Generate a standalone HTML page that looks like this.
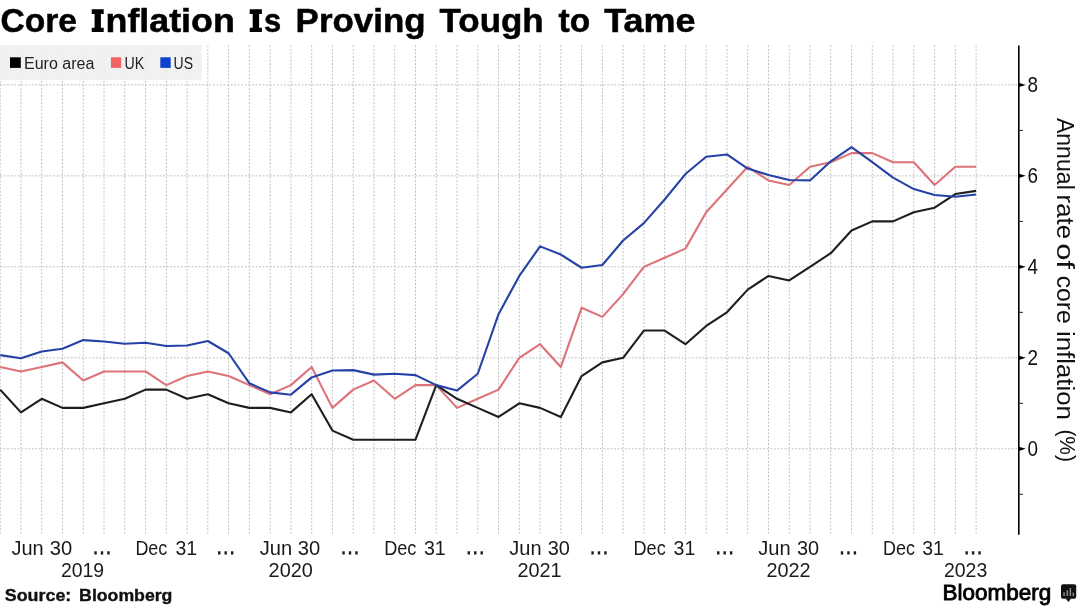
<!DOCTYPE html>
<html><head><meta charset="utf-8">
<style>
html,body{margin:0;padding:0;background:#fff;}
svg{display:block;will-change:transform;}
text{font-family:"Liberation Sans",sans-serif;}
</style></head><body>
<svg width="1078" height="606" viewBox="0 0 1078 606">
<rect width="1078" height="606" fill="#fff"/>
<g stroke="#bcbcbc" stroke-width="1" stroke-dasharray="1.8,1.75" fill="none">
<line x1="0.20" y1="45.4" x2="0.20" y2="534.7"/>
<line x1="20.96" y1="45.4" x2="20.96" y2="534.7"/>
<line x1="41.73" y1="45.4" x2="41.73" y2="534.7"/>
<line x1="62.49" y1="45.4" x2="62.49" y2="534.7"/>
<line x1="83.26" y1="45.4" x2="83.26" y2="534.7"/>
<line x1="104.02" y1="45.4" x2="104.02" y2="534.7"/>
<line x1="124.78" y1="45.4" x2="124.78" y2="534.7"/>
<line x1="145.55" y1="45.4" x2="145.55" y2="534.7"/>
<line x1="166.31" y1="45.4" x2="166.31" y2="534.7"/>
<line x1="187.08" y1="45.4" x2="187.08" y2="534.7"/>
<line x1="207.84" y1="45.4" x2="207.84" y2="534.7"/>
<line x1="228.60" y1="45.4" x2="228.60" y2="534.7"/>
<line x1="249.37" y1="45.4" x2="249.37" y2="534.7"/>
<line x1="270.13" y1="45.4" x2="270.13" y2="534.7"/>
<line x1="290.90" y1="45.4" x2="290.90" y2="534.7"/>
<line x1="311.66" y1="45.4" x2="311.66" y2="534.7"/>
<line x1="332.42" y1="45.4" x2="332.42" y2="534.7"/>
<line x1="353.19" y1="45.4" x2="353.19" y2="534.7"/>
<line x1="373.95" y1="45.4" x2="373.95" y2="534.7"/>
<line x1="394.72" y1="45.4" x2="394.72" y2="534.7"/>
<line x1="415.48" y1="45.4" x2="415.48" y2="534.7"/>
<line x1="436.24" y1="45.4" x2="436.24" y2="534.7"/>
<line x1="457.01" y1="45.4" x2="457.01" y2="534.7"/>
<line x1="477.77" y1="45.4" x2="477.77" y2="534.7"/>
<line x1="498.54" y1="45.4" x2="498.54" y2="534.7"/>
<line x1="519.30" y1="45.4" x2="519.30" y2="534.7"/>
<line x1="540.06" y1="45.4" x2="540.06" y2="534.7"/>
<line x1="560.83" y1="45.4" x2="560.83" y2="534.7"/>
<line x1="581.59" y1="45.4" x2="581.59" y2="534.7"/>
<line x1="602.36" y1="45.4" x2="602.36" y2="534.7"/>
<line x1="623.12" y1="45.4" x2="623.12" y2="534.7"/>
<line x1="643.88" y1="45.4" x2="643.88" y2="534.7"/>
<line x1="664.65" y1="45.4" x2="664.65" y2="534.7"/>
<line x1="685.41" y1="45.4" x2="685.41" y2="534.7"/>
<line x1="706.18" y1="45.4" x2="706.18" y2="534.7"/>
<line x1="726.94" y1="45.4" x2="726.94" y2="534.7"/>
<line x1="747.70" y1="45.4" x2="747.70" y2="534.7"/>
<line x1="768.47" y1="45.4" x2="768.47" y2="534.7"/>
<line x1="789.23" y1="45.4" x2="789.23" y2="534.7"/>
<line x1="810.00" y1="45.4" x2="810.00" y2="534.7"/>
<line x1="830.76" y1="45.4" x2="830.76" y2="534.7"/>
<line x1="851.52" y1="45.4" x2="851.52" y2="534.7"/>
<line x1="872.29" y1="45.4" x2="872.29" y2="534.7"/>
<line x1="893.05" y1="45.4" x2="893.05" y2="534.7"/>
<line x1="913.82" y1="45.4" x2="913.82" y2="534.7"/>
<line x1="934.58" y1="45.4" x2="934.58" y2="534.7"/>
<line x1="955.34" y1="45.4" x2="955.34" y2="534.7"/>
<line x1="976.11" y1="45.4" x2="976.11" y2="534.7"/>
<line x1="0" y1="448.80" x2="1018.8" y2="448.80"/>
<line x1="0" y1="357.82" x2="1018.8" y2="357.82"/>
<line x1="0" y1="266.84" x2="1018.8" y2="266.84"/>
<line x1="0" y1="175.86" x2="1018.8" y2="175.86"/>
<line x1="0" y1="84.88" x2="1018.8" y2="84.88"/>
</g>
<rect x="0" y="45.1" width="201.6" height="34.8" fill="#efefef" fill-opacity="0.85"/>
<rect x="10" y="57.3" width="10.8" height="10.6" fill="#000"/>
<rect x="110.9" y="57.3" width="10.3" height="10.6" fill="#f26363"/>
<rect x="160.3" y="57.3" width="10.4" height="10.6" fill="#1040d0"/>
<g fill="none" stroke-width="2.1" stroke-linejoin="round" stroke-linecap="butt">
<polyline stroke="#de7279" points="0.20,366.92 20.96,371.47 41.73,366.92 62.49,362.37 83.26,380.56 104.02,371.47 124.78,371.47 145.55,371.47 166.31,385.11 187.08,376.02 207.84,371.47 228.60,376.02 249.37,385.11 270.13,394.21 290.90,385.11 311.66,366.92 332.42,407.86 353.19,389.66 373.95,380.56 394.72,398.76 415.48,385.11 436.24,385.11 457.01,407.86 477.77,398.76 498.54,389.66 519.30,357.82 540.06,344.17 560.83,366.92 581.59,307.78 602.36,316.88 623.12,294.13 643.88,266.84 664.65,257.74 685.41,248.64 706.18,212.25 726.94,189.51 747.70,166.76 768.47,180.41 789.23,184.96 810.00,166.76 830.76,162.21 851.52,153.12 872.29,153.12 893.05,162.21 913.82,162.21 934.58,184.96 955.34,166.76 976.11,166.76"/>
<polyline stroke="#1e1e1e" points="0.20,389.66 20.96,412.41 41.73,398.76 62.49,407.86 83.26,407.86 104.02,403.31 124.78,398.76 145.55,389.66 166.31,389.66 187.08,398.76 207.84,394.21 228.60,403.31 249.37,407.86 270.13,407.86 290.90,412.41 311.66,394.21 332.42,430.60 353.19,439.70 373.95,439.70 394.72,439.70 415.48,439.70 436.24,385.11 457.01,398.76 477.77,407.86 498.54,416.96 519.30,403.31 540.06,407.86 560.83,416.96 581.59,376.02 602.36,362.37 623.12,357.82 643.88,330.53 664.65,330.53 685.41,344.17 706.18,325.98 726.94,312.33 747.70,289.59 768.47,275.94 789.23,280.49 810.00,266.84 830.76,253.19 851.52,230.45 872.29,221.35 893.05,221.35 913.82,212.25 934.58,207.70 955.34,194.06 976.11,190.87"/>
<polyline stroke="#2642a6" points="0.20,355.09 20.96,358.27 41.73,351.45 62.49,348.72 83.26,340.08 104.02,341.44 124.78,343.72 145.55,342.81 166.31,345.99 187.08,345.54 207.84,340.99 228.60,353.27 249.37,383.29 270.13,392.39 290.90,394.67 311.66,377.38 332.42,370.56 353.19,370.10 373.95,374.65 394.72,373.74 415.48,375.11 436.24,385.11 457.01,390.57 477.77,373.74 498.54,314.15 519.30,275.94 540.06,246.37 560.83,254.56 581.59,267.75 602.36,265.02 623.12,240.46 643.88,223.17 664.65,199.51 685.41,174.04 706.18,156.75 726.94,154.48 747.70,168.58 768.47,174.95 789.23,179.95 810.00,180.41 830.76,161.30 851.52,147.20 872.29,162.21 893.05,177.68 913.82,189.05 934.58,194.97 955.34,196.79 976.11,194.51"/>
</g>
<line x1="1018.8" y1="45.4" x2="1018.8" y2="534.7" stroke="#000" stroke-width="1.6"/>
<g stroke="none" fill="#000">
<line x1="1018.8" y1="494.29" x2="1023.0" y2="494.29" stroke="#222" stroke-width="1"/>
<path d="M1018.8,446.70 L1025.8,448.80 L1018.8,450.90 Z"/>
<line x1="1018.8" y1="403.31" x2="1023.0" y2="403.31" stroke="#222" stroke-width="1"/>
<path d="M1018.8,355.72 L1025.8,357.82 L1018.8,359.92 Z"/>
<line x1="1018.8" y1="312.33" x2="1023.0" y2="312.33" stroke="#222" stroke-width="1"/>
<path d="M1018.8,264.74 L1025.8,266.84 L1018.8,268.94 Z"/>
<line x1="1018.8" y1="221.35" x2="1023.0" y2="221.35" stroke="#222" stroke-width="1"/>
<path d="M1018.8,173.76 L1025.8,175.86 L1018.8,177.96 Z"/>
<line x1="1018.8" y1="130.37" x2="1023.0" y2="130.37" stroke="#222" stroke-width="1"/>
<path d="M1018.8,82.78 L1025.8,84.88 L1018.8,86.98 Z"/>
</g>
<g fill="#000">
<path d="M91.7,9.2 H103.7 V13.9 H100.9 V27.8 H103.7 V32 H91.7 V27.8 H94.6 V13.9 H91.7 Z"/>
<path d="M249.7,9.2 H261.9 V13.9 H259.1 V27.8 H261.9 V32 H249.7 V27.8 H252.7 V13.9 H249.7 Z"/>
</g>
<g fill="#111">
<text x="1027.50" y="456.20" font-size="21.60" textLength="10.50" lengthAdjust="spacingAndGlyphs">0</text>
<text x="1027.50" y="365.22" font-size="21.60" textLength="10.50" lengthAdjust="spacingAndGlyphs">2</text>
<text x="1027.50" y="274.24" font-size="21.60" textLength="10.50" lengthAdjust="spacingAndGlyphs">4</text>
<text x="1027.50" y="183.26" font-size="21.60" textLength="10.50" lengthAdjust="spacingAndGlyphs">6</text>
<text x="1027.50" y="92.28" font-size="21.60" textLength="10.50" lengthAdjust="spacingAndGlyphs">8</text>
</g>
<text transform="translate(1057.30,117.88) rotate(90)" font-size="24.40" fill="#111" textLength="71.90" lengthAdjust="spacingAndGlyphs">Annual</text>
<text transform="translate(1057.30,194.57) rotate(90)" font-size="24.40" fill="#111" textLength="44.63" lengthAdjust="spacingAndGlyphs">rate</text>
<text transform="translate(1057.30,243.14) rotate(90)" font-size="24.40" fill="#111" textLength="25.79" lengthAdjust="spacingAndGlyphs">of</text>
<text transform="translate(1057.30,275.63) rotate(90)" font-size="24.40" fill="#111" textLength="48.28" lengthAdjust="spacingAndGlyphs">core</text>
<text transform="translate(1057.30,330.94) rotate(90)" font-size="24.40" fill="#111" textLength="88.90" lengthAdjust="spacingAndGlyphs">inflation</text>
<text transform="translate(1059.80,429.42) rotate(90)" font-size="22.50" fill="#111" textLength="32.48" lengthAdjust="spacingAndGlyphs">(%)</text>
<text x="0.50" y="31.80" font-size="32.70" textLength="76.50" lengthAdjust="spacingAndGlyphs" font-weight="bold" fill="#000" stroke="#000" stroke-width="0.5">Core</text>
<text x="105.53" y="31.80" font-size="32.70" textLength="129.29" lengthAdjust="spacingAndGlyphs" font-weight="bold" fill="#000" stroke="#000" stroke-width="0.5">nflation</text>
<text x="263.96" y="31.80" font-size="32.70" textLength="17.18" lengthAdjust="spacingAndGlyphs" font-weight="bold" fill="#000" stroke="#000" stroke-width="0.5">s</text>
<text x="295.63" y="31.80" font-size="32.70" textLength="130.03" lengthAdjust="spacingAndGlyphs" font-weight="bold" fill="#000" stroke="#000" stroke-width="0.5">Proving</text>
<text x="439.53" y="31.80" font-size="32.70" textLength="104.22" lengthAdjust="spacingAndGlyphs" font-weight="bold" fill="#000" stroke="#000" stroke-width="0.5">Tough</text>
<text x="558.59" y="31.80" font-size="32.70" textLength="31.60" lengthAdjust="spacingAndGlyphs" font-weight="bold" fill="#000" stroke="#000" stroke-width="0.5">to</text>
<text x="604.21" y="31.80" font-size="32.70" textLength="91.28" lengthAdjust="spacingAndGlyphs" font-weight="bold" fill="#000" stroke="#000" stroke-width="0.5">Tame</text>
<text x="24.04" y="68.80" font-size="16.00" textLength="70.32" lengthAdjust="spacingAndGlyphs" fill="#222">Euro area</text>
<text x="124.41" y="68.80" font-size="16.00" textLength="19.73" lengthAdjust="spacingAndGlyphs" fill="#222">UK</text>
<text x="173.62" y="68.80" font-size="16.00" textLength="19.46" lengthAdjust="spacingAndGlyphs" fill="#222">US</text>
<text x="11.52" y="554.70" font-size="20.20" textLength="32.21" lengthAdjust="spacingAndGlyphs" fill="#1a1a1a">Jun</text>
<text x="49.73" y="554.70" font-size="20.20" textLength="22.45" lengthAdjust="spacingAndGlyphs" fill="#1a1a1a">30</text>
<text x="135.43" y="554.70" font-size="20.20" textLength="31.90" lengthAdjust="spacingAndGlyphs" fill="#1a1a1a">Dec</text>
<text x="175.39" y="554.70" font-size="20.20" textLength="21.66" lengthAdjust="spacingAndGlyphs" fill="#1a1a1a">31</text>
<text x="259.72" y="554.70" font-size="20.20" textLength="32.45" lengthAdjust="spacingAndGlyphs" fill="#1a1a1a">Jun</text>
<text x="297.82" y="554.70" font-size="20.20" textLength="22.50" lengthAdjust="spacingAndGlyphs" fill="#1a1a1a">30</text>
<text x="384.15" y="554.70" font-size="20.20" textLength="32.30" lengthAdjust="spacingAndGlyphs" fill="#1a1a1a">Dec</text>
<text x="423.96" y="554.70" font-size="20.20" textLength="21.78" lengthAdjust="spacingAndGlyphs" fill="#1a1a1a">31</text>
<text x="509.33" y="554.70" font-size="20.20" textLength="32.26" lengthAdjust="spacingAndGlyphs" fill="#1a1a1a">Jun</text>
<text x="547.71" y="554.70" font-size="20.20" textLength="22.15" lengthAdjust="spacingAndGlyphs" fill="#1a1a1a">30</text>
<text x="633.57" y="554.70" font-size="20.20" textLength="32.15" lengthAdjust="spacingAndGlyphs" fill="#1a1a1a">Dec</text>
<text x="673.55" y="554.70" font-size="20.20" textLength="21.75" lengthAdjust="spacingAndGlyphs" fill="#1a1a1a">31</text>
<text x="758.14" y="554.70" font-size="20.20" textLength="32.47" lengthAdjust="spacingAndGlyphs" fill="#1a1a1a">Jun</text>
<text x="796.92" y="554.70" font-size="20.20" textLength="22.18" lengthAdjust="spacingAndGlyphs" fill="#1a1a1a">30</text>
<text x="883.09" y="554.70" font-size="20.20" textLength="31.96" lengthAdjust="spacingAndGlyphs" fill="#1a1a1a">Dec</text>
<text x="922.18" y="554.70" font-size="20.20" textLength="21.66" lengthAdjust="spacingAndGlyphs" fill="#1a1a1a">31</text>
<text x="60.95" y="577.20" font-size="20.20" textLength="43.21" lengthAdjust="spacingAndGlyphs" fill="#1a1a1a">2019</text>
<text x="268.61" y="577.20" font-size="20.20" textLength="44.23" lengthAdjust="spacingAndGlyphs" fill="#1a1a1a">2020</text>
<text x="517.43" y="577.20" font-size="20.20" textLength="44.23" lengthAdjust="spacingAndGlyphs" fill="#1a1a1a">2021</text>
<text x="766.43" y="577.20" font-size="20.20" textLength="44.19" lengthAdjust="spacingAndGlyphs" fill="#1a1a1a">2022</text>
<text x="943.92" y="577.20" font-size="20.20" textLength="43.33" lengthAdjust="spacingAndGlyphs" fill="#1a1a1a">2023</text>
<text x="4.84" y="600.80" font-size="16.30" textLength="66.43" lengthAdjust="spacingAndGlyphs" font-weight="bold" fill="#111" stroke="#111" stroke-width="0.35">Source:</text>
<text x="79.11" y="600.80" font-size="16.30" textLength="93.31" lengthAdjust="spacingAndGlyphs" font-weight="bold" fill="#111" stroke="#111" stroke-width="0.35">Bloomberg</text>
<text x="942.52" y="599.80" font-size="21.50" textLength="108.62" lengthAdjust="spacingAndGlyphs" fill="#000" stroke="#000" stroke-width="0.85">Bloomberg</text>
<g fill="#1a1a1a">
<rect x="94.35" y="551.30" width="2.40" height="3.20"/>
<rect x="100.80" y="551.30" width="2.40" height="3.20"/>
<rect x="107.25" y="551.30" width="2.40" height="3.20"/>
<rect x="218.05" y="551.30" width="2.40" height="3.20"/>
<rect x="224.50" y="551.30" width="2.40" height="3.20"/>
<rect x="230.95" y="551.30" width="2.40" height="3.20"/>
<rect x="342.35" y="551.30" width="2.40" height="3.20"/>
<rect x="348.80" y="551.30" width="2.40" height="3.20"/>
<rect x="355.25" y="551.30" width="2.40" height="3.20"/>
<rect x="467.60" y="551.30" width="2.40" height="3.20"/>
<rect x="474.05" y="551.30" width="2.40" height="3.20"/>
<rect x="480.50" y="551.30" width="2.40" height="3.20"/>
<rect x="591.35" y="551.30" width="2.40" height="3.20"/>
<rect x="597.80" y="551.30" width="2.40" height="3.20"/>
<rect x="604.25" y="551.30" width="2.40" height="3.20"/>
<rect x="717.05" y="551.30" width="2.40" height="3.20"/>
<rect x="723.50" y="551.30" width="2.40" height="3.20"/>
<rect x="729.95" y="551.30" width="2.40" height="3.20"/>
<rect x="840.80" y="551.30" width="2.40" height="3.20"/>
<rect x="847.25" y="551.30" width="2.40" height="3.20"/>
<rect x="853.70" y="551.30" width="2.40" height="3.20"/>
<rect x="965.45" y="551.30" width="2.40" height="3.20"/>
<rect x="971.90" y="551.30" width="2.40" height="3.20"/>
<rect x="978.35" y="551.30" width="2.40" height="3.20"/>
</g>
<g fill="#111">
<rect x="1061" y="584.3" width="15.2" height="14.5" rx="2"/>
<path d="M1065.6,598.5 L1068.4,601.9 L1071.2,598.5 Z"/>
</g>
<g fill="#8c8c8c">
<rect x="1063.3" y="592.4" width="1.6" height="3.6"/>
<rect x="1066.5" y="590.3" width="1.6" height="5.7"/>
<rect x="1069.6" y="588" width="1.5" height="8"/>
<rect x="1072.6" y="592.6" width="1.5" height="3.4"/>
</g>
</svg>
</body></html>
